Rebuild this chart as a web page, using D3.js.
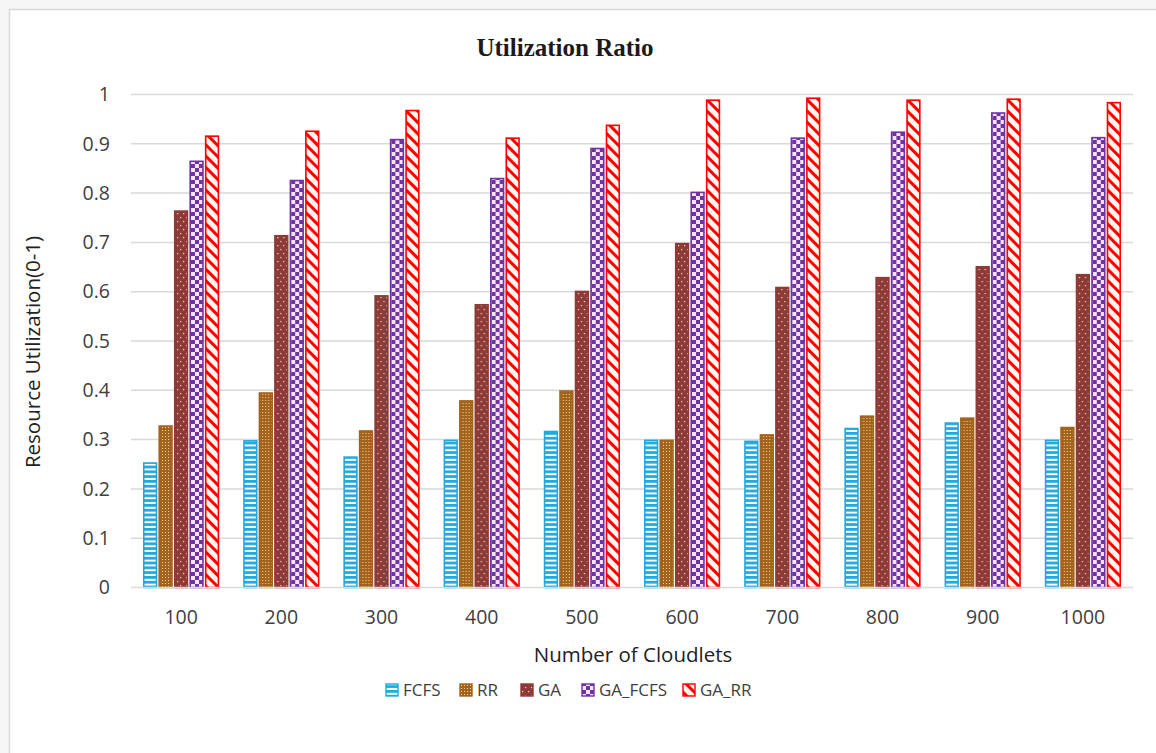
<!DOCTYPE html>
<html>
<head>
<meta charset="utf-8">
<script src="https://cdn.jsdelivr.net/npm/d3@7"></script>
<style>
  html, body { margin: 0; padding: 0; background: #f6f6f6; }
  svg { display: block; }
</style>
</head>
<body>
<svg id="chart" width="1156" height="753"></svg>
<script>
const categories = ["100", "200", "300", "400", "500", "600", "700", "800", "900", "1000"];
const seriesNames = ["FCFS", "RR", "GA", "GA_FCFS", "GA_RR"];
const FCFS    = [0.254, 0.299, 0.266, 0.300, 0.318, 0.300, 0.298, 0.324, 0.335, 0.300];
const RR      = [0.329, 0.396, 0.319, 0.380, 0.400, 0.300, 0.311, 0.349, 0.345, 0.326];
const GA      = [0.765, 0.715, 0.593, 0.575, 0.602, 0.699, 0.610, 0.630, 0.652, 0.636];
const GA_FCFS = [0.866, 0.827, 0.910, 0.831, 0.892, 0.803, 0.913, 0.925, 0.964, 0.914];
const GA_RR   = [0.917, 0.927, 0.969, 0.913, 0.939, 0.990, 0.994, 0.990, 0.992, 0.985];
const yTicks = [0, 0.1, 0.2, 0.3, 0.4, 0.5, 0.6, 0.7, 0.8, 0.9, 1];

(function () {
const seriesValues = [FCFS, RR, GA, GA_FCFS, GA_RR];
const svg = d3.select("#chart");
const font = "'Open Sans', 'Noto Sans', sans-serif";

// frame
svg.append("rect").attr("x", 9.5).attr("y", 9.5).attr("width", 1160).attr("height", 760)
  .attr("fill", "#ffffff").attr("stroke", "#d9d9d9").attr("stroke-width", 1.5);

// patterns
const defs = svg.append("defs");
let p = defs.append("pattern").attr("id", "pFCFS").attr("patternUnits", "userSpaceOnUse")
  .attr("width", 6).attr("height", 4.8);
p.append("rect").attr("width", 6).attr("height", 4.8).attr("fill", "#21a9df");
p.append("rect").attr("y", 2.8).attr("width", 6).attr("height", 2).attr("fill", "#ffffff");
p = defs.append("pattern").attr("id", "pRR").attr("patternUnits", "userSpaceOnUse")
  .attr("width", 3).attr("height", 3);
p.append("rect").attr("width", 3).attr("height", 3).attr("fill", "#a3621d");
p.append("rect").attr("x", 1).attr("y", 1).attr("width", 1).attr("height", 1).attr("fill", "#f3d98a");
p = defs.append("pattern").attr("id", "pGA").attr("patternUnits", "userSpaceOnUse")
  .attr("width", 6).attr("height", 8);
p.append("rect").attr("width", 6).attr("height", 8).attr("fill", "#8e3a36");
p.append("rect").attr("x", 1).attr("y", 1).attr("width", 1.2).attr("height", 1.2).attr("fill", "#f0d8d0");
p.append("rect").attr("x", 4).attr("y", 5).attr("width", 1.2).attr("height", 1.2).attr("fill", "#f0d8d0");
p = defs.append("pattern").attr("id", "pGAFCFS").attr("patternUnits", "userSpaceOnUse")
  .attr("width", 8).attr("height", 8);
p.append("rect").attr("width", 8).attr("height", 8).attr("fill", "#f6e4f7");
p.append("rect").attr("width", 4).attr("height", 4).attr("fill", "#7033a3");
p.append("rect").attr("x", 4).attr("y", 4).attr("width", 4).attr("height", 4).attr("fill", "#7033a3");
p = defs.append("pattern").attr("id", "pGARR").attr("patternUnits", "userSpaceOnUse")
  .attr("width", 8).attr("height", 8).attr("patternTransform", "rotate(45)");
p.append("rect").attr("width", 8).attr("height", 8).attr("fill", "#fff6f0");
p.append("rect").attr("width", 8).attr("height", 3).attr("fill", "#ff0000");

const fills = ["url(#pFCFS)", "url(#pRR)", "url(#pGA)", "url(#pGAFCFS)", "url(#pGARR)"];
const strokes = ["#21a9df", "#a3621d", "#8e3a36", "#7033a3", "#ff0000"];

const pLeft = 131, pRight = 1133, pTop = 94.5, pBottom = 587.5;
const x0 = d3.scaleBand().domain(categories).range([pLeft, pRight]).padding(0);
const bw = x0.bandwidth();
const x1 = d3.scaleBand().domain(seriesNames).range([bw * 0.12, bw * 0.88]).paddingInner(0.08);
const y = d3.scaleLinear().domain([0, 1]).range([pBottom, pTop]);

svg.append("g").selectAll("line").data(yTicks.filter(d => d > 0)).join("line")
  .attr("x1", pLeft).attr("x2", pRight)
  .attr("y1", d => y(d)).attr("y2", d => y(d))
  .attr("stroke", "#d9d9d9").attr("stroke-width", 1.5);

const yAxis = d3.axisLeft(y).tickValues(yTicks).tickFormat(d => d3.format("")(d)).tickSize(0).tickPadding(0);
const gy = svg.append("g").attr("transform", `translate(${pLeft - 21},0)`).call(yAxis);
gy.select(".domain").remove();
gy.selectAll("text").attr("font-family", font).attr("font-size", 19.5).attr("fill", "#404040");

const groups = svg.append("g").selectAll("g").data(categories).join("g")
  .attr("transform", d => `translate(${x0(d)},0)`);
groups.selectAll("rect").data((c, ci) => seriesNames.map((s, si) => ({ s, si, v: seriesValues[si][ci] })))
  .join("rect")
  .attr("x", d => x1(d.s) + 0.75)
  .attr("width", x1.bandwidth() - 1.5)
  .attr("y", d => y(d.v) + 0.75)
  .attr("height", d => y(0) - y(d.v) - 0.75)
  .attr("fill", d => fills[d.si])
  .attr("stroke", d => strokes[d.si])
  .attr("stroke-width", 1.6);

svg.append("line").attr("x1", pLeft).attr("x2", pRight).attr("y1", pBottom).attr("y2", pBottom)
  .attr("stroke", "#d9d9d9").attr("stroke-width", 1.5);

const xAxis = d3.axisBottom(x0).tickSize(0).tickPadding(0);
const gx = svg.append("g").attr("transform", `translate(0,${pBottom + 30})`).call(xAxis);
gx.select(".domain").remove();
gx.selectAll("text").attr("font-family", font).attr("font-size", 19.5).attr("fill", "#404040").attr("dy", "0.35em");

svg.append("text").attr("x", 565).attr("y", 56).attr("text-anchor", "middle")
  .attr("font-family", "'Liberation Serif', 'DejaVu Serif', serif").attr("font-weight", "bold")
  .attr("font-size", 25).attr("fill", "#1a1a1a").text("Utilization Ratio");

svg.append("text").attr("x", 633).attr("y", 655).attr("dy", "0.35em").attr("text-anchor", "middle")
  .attr("font-family", font).attr("font-size", 20.5).attr("fill", "#222").text("Number of Cloudlets");
svg.append("text").attr("transform", "translate(33,352) rotate(-90)").attr("dy", "0.35em").attr("text-anchor", "middle")
  .attr("font-family", font).attr("font-size", 20.5).attr("fill", "#222").text("Resource Utilization(0-1)");

const legendX = [386, 460, 521, 582, 683];
const lg = svg.append("g").selectAll("g").data(seriesNames).join("g")
  .attr("transform", (d, i) => `translate(${legendX[i]},690)`);
lg.append("rect").attr("x", 0).attr("y", -6).attr("width", 12).attr("height", 12)
  .attr("fill", (d, i) => fills[i]).attr("stroke", (d, i) => strokes[i]).attr("stroke-width", 1.4);
lg.append("text").attr("x", 17).attr("y", 0).attr("dy", "0.35em")
  .attr("font-family", font).attr("font-size", 17).attr("fill", "#404040").text(d => d);
})();
</script>
</body>
</html>
